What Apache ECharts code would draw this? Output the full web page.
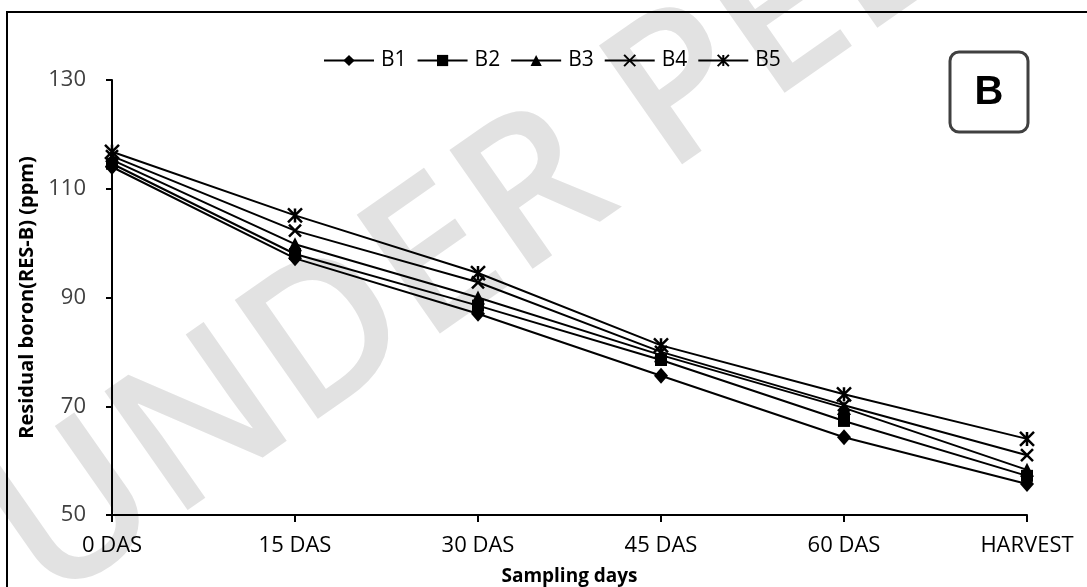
<!DOCTYPE html>
<html>
<head>
<meta charset="utf-8">
<script src="https://cdn.jsdelivr.net/npm/echarts@6/dist/echarts.min.js"></script>
<style>
html,body{margin:0;padding:0;background:#fff;}
#chart{width:1087px;height:587px;}
</style>
</head>
<body>
<div id="chart"></div>
<script>
const categories = ['0 DAS', '15 DAS', '30 DAS', '45 DAS', '60 DAS', 'HARVEST'];
const B1 = [114.0, 97.2, 87.0, 75.6, 64.3, 55.7];
const B2 = [114.6, 98.0, 88.5, 78.5, 67.3, 57.2];
const B3 = [115.3, 99.8, 90.0, 79.4, 69.7, 58.3];
const B4 = [116.0, 102.3, 92.8, 80.0, 70.2, 61.0];
const B5 = [116.8, 105.1, 94.5, 81.2, 72.2, 64.0];
const seriesNames = ['B1', 'B2', 'B3', 'B4', 'B5'];
const seriesData = [B1, B2, B3, B4, B5];
const yTicks = [50, 70, 90, 110, 130];

const symbols = [
  'diamond',
  'rect',
  'triangle',
  'path://M0,0L10,10M10,0L0,10',
  'path://M0,0L10,10M10,0L0,10M5,0L5,10'
];
const symbolSizes = [[14, 16], 12, 14, 12, 14];

const chart = echarts.init(document.getElementById('chart'));
const font = '"Open Sans", "Liberation Sans", sans-serif';

const series = seriesNames.map((n, i) => {
  const isPath = symbols[i].startsWith('path://');
  return {
    name: n,
    type: 'line',
    data: seriesData[i],
    symbol: symbols[i],
    symbolSize: symbolSizes[i],
    showAllSymbol: true,
    lineStyle: { color: '#000', width: 2 },
    itemStyle: isPath ? { color: '#000', borderColor: '#000', borderWidth: 2.5 } : { color: '#000', borderWidth: 0 },
    emphasis: { disabled: true },
    animation: false,
    z: 5
  };
});

chart.setOption({
  backgroundColor: '#fff',
  animation: false,
  textStyle: { fontFamily: font },
  graphic: [
    {
      type: 'text', z: -10, silent: true,
      x: 845, y: -20, rotation: 0.61,
      style: {
        text: 'UNDER PEER REVIEW',
        font: '600 203px "Open Sans", sans-serif',
        fill: '#e2e2e2',
        align: 'center', verticalAlign: 'middle'
      }
    },
    {
      type: 'rect', z: 10, silent: true,
      shape: { x: 7, y: 12, width: 1100, height: 600 },
      style: { fill: 'none', stroke: '#000', lineWidth: 2 }
    },
    {
      type: 'rect', z: 10, silent: true,
      shape: { x: 950, y: 52, width: 78, height: 80, r: 9 },
      style: { fill: '#fff', stroke: '#404040', lineWidth: 3 }
    },
    {
      type: 'text', z: 11, silent: true,
      x: 989, y: 93,
      style: {
        text: 'B', font: 'bold 40px "Liberation Sans", Arial, sans-serif',
        fill: '#000', align: 'center', verticalAlign: 'middle'
      }
    }
  ],
  legend: {
    top: 45,
    left: 318,
    itemWidth: 50,
    itemHeight: 14,
    itemGap: 10,
    data: seriesNames,
    textStyle: { fontSize: 21, color: '#000', fontFamily: font, padding: [0, 0, 0, 2] }
  },
  grid: { left: 112, right: 60, top: 80, bottom: 72, containLabel: false, outerBoundsMode: 'none' },
  xAxis: {
    type: 'category',
    data: categories,
    boundaryGap: false,
    name: 'Sampling days',
    nameLocation: 'middle',
    nameGap: 52,
    nameTextStyle: { fontSize: 19, fontWeight: 'bold', color: '#000', fontFamily: font },
    axisLine: { lineStyle: { color: '#000', width: 2 } },
    axisTick: { show: true, inside: false, length: 7, alignWithLabel: true, lineStyle: { color: '#000', width: 2 } },
    axisLabel: { fontSize: 22, color: '#000', margin: 20, interval: 0, fontFamily: font },
    splitLine: { show: false }
  },
  yAxis: {
    type: 'value',
    min: yTicks[0],
    max: yTicks[yTicks.length - 1],
    interval: 20,
    name: 'Residual boron(RES-B) (ppm)',
    nameLocation: 'middle',
    nameGap: 69,
    nameTextStyle: { fontSize: 20, fontWeight: 'bold', color: '#000', fontFamily: font },
    axisLine: { show: true, lineStyle: { color: '#000', width: 2 } },
    axisTick: { show: true, length: 6, lineStyle: { color: '#000', width: 2 } },
    axisLabel: { fontSize: 22, color: '#404040', margin: 26, fontFamily: font },
    splitLine: { show: false }
  },
  series: series
});
</script>
</body>
</html>
